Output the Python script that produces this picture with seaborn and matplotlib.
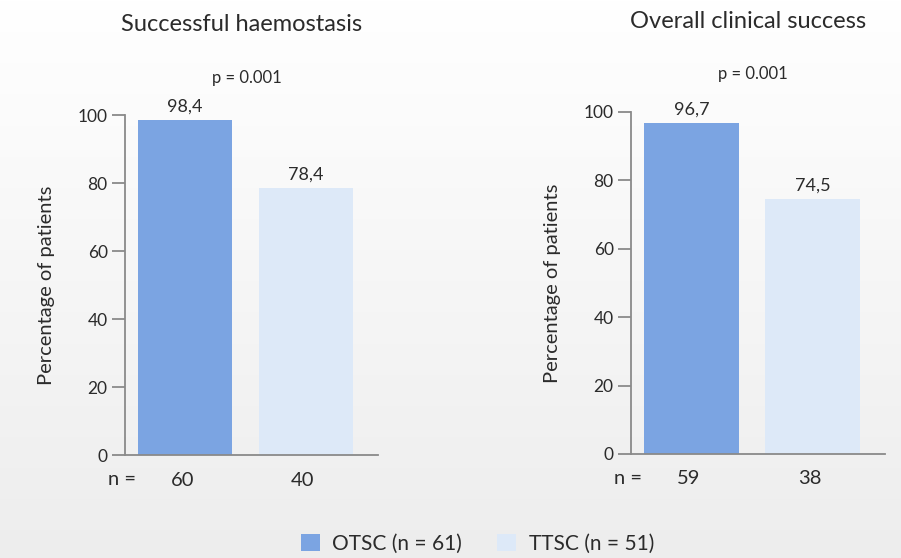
import numpy as np
import pandas as pd
import matplotlib
matplotlib.use("Agg")
import matplotlib.pyplot as plt
import seaborn as sns
from matplotlib.patches import Patch

# ---- data ----
groups = ["OTSC", "TTSC"]
legend_labels = ["OTSC (n = 61)", "TTSC (n = 51)"]
haemostasis = [98.4, 78.4]
clinical = [96.7, 74.5]
n_haemostasis = [60, 40]
n_clinical = [59, 38]
titles = ["Successful haemostasis", "Overall clinical success"]
p_values = ["p = 0.001", "p = 0.001"]
yticks = [0, 20, 40, 60, 80, 100]

colors = ["#7ba4e2", "#dde9f8"]
text_color = "#2b2b2b"
spine_color = "#8a8a8a"

sns.set_theme(style="white")
plt.rcParams["font.family"] = ["Lato", "DejaVu Sans"]

fig = plt.figure(figsize=(9.01, 5.58), dpi=100)

# subtle background gradient
bg = fig.add_axes([0, 0, 1, 1], zorder=-10)
grad = np.linspace(1.0, 0.93, 256).reshape(-1, 1)
bg.imshow(np.dstack([grad, grad, grad]), aspect="auto", extent=[0, 1, 0, 1])
bg.axis("off")

axes_pos = [
    [125 / 901, 1 - 455 / 558, 253 / 901, 340 / 558],
    [631 / 901, 1 - 454 / 558, 254 / 901, 342 / 558],
]
datasets = [haemostasis, clinical]
ns = [n_haemostasis, n_clinical]

for pos, vals, nvals, title, pval in zip(axes_pos, datasets, ns, titles, p_values):
    ax = fig.add_axes(pos)
    ax.patch.set_alpha(0)
    df = pd.DataFrame({"group": groups, "value": vals})
    sns.barplot(data=df, x="group", y="value", hue="group", palette=colors,
                width=0.78, legend=False, ax=ax, saturation=1,
                edgecolor="none", linewidth=0)
    ax.set_xlim(-0.5, 1.6)
    ax.set_ylim(0, 100)
    ax.set_yticks(yticks)
    ax.set_xticks([])
    ax.set_xlabel("")
    ax.set_ylabel("Percentage of patients", fontsize=14.5, color=text_color, labelpad=16)
    for s in ["top", "right"]:
        ax.spines[s].set_visible(False)
    for s in ["left", "bottom"]:
        ax.spines[s].set_color(spine_color)
        ax.spines[s].set_linewidth(1.3)
    ax.tick_params(axis="y", direction="out", length=9.5, width=1.3, color=spine_color,
                   labelsize=12.5, labelcolor=text_color, pad=3, left=True)
    # value labels
    for i, v in enumerate(vals):
        ax.annotate(f"{v:.1f}".replace(".", ","), (i, v), xytext=(0, 4),
                    textcoords="offset points", ha="center", va="bottom",
                    fontsize=13, color=text_color, annotation_clip=False)
    # n labels
    ax.text(-0.01, -0.072, "n =", transform=ax.transAxes, ha="center", va="center",
            fontsize=14.5, color=text_color)
    for i, n in enumerate(nvals):
        ax.annotate(str(n), (i, 0), xytext=(-2, -18), textcoords="offset points",
                    ha="center", va="center", fontsize=14.5, color=text_color,
                    annotation_clip=False)
    # p-value and title
    ax.text(0.48, 1.11, pval, transform=ax.transAxes, ha="center", va="center",
            fontsize=12, color=text_color)
    ax.text(0.46, 1.265, title, transform=ax.transAxes, ha="center", va="center",
            fontsize=17, color=text_color)

handles = [Patch(facecolor=c, edgecolor="none") for c in colors]
fig.legend(handles, legend_labels, loc="center", bbox_to_anchor=(0.53, 0.026),
           ncol=2, frameon=False, fontsize=15, handlelength=0.9, handleheight=0.9,
           columnspacing=1.7, handletextpad=0.6, labelcolor=text_color,
           borderpad=0.1)

fig.savefig("out.png", dpi=100)
